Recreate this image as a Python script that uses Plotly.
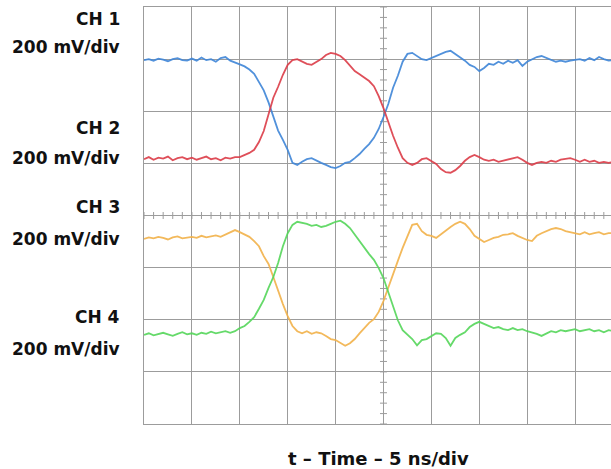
import numpy as np
import plotly.graph_objects as go

# Time base: 0.5 ns samples, 5 ns per division
time_ns = [i * 0.5 for i in range(99)]

# Channel traces in screen divisions (200 mV/div, each channel with its own offset)
ch1 = [2.98, 3.00, 2.97, 3.01, 2.99, 2.96, 3.00, 3.02, 2.98, 2.97,
       3.01, 2.97, 3.03, 2.98, 3.00, 2.95, 3.02, 3.04, 2.97, 2.94,
       2.90, 2.86, 2.80, 2.72, 2.57, 2.40, 2.17, 1.91, 1.63, 1.45,
       1.26, 1.01, 0.97, 1.03, 1.08, 1.10, 1.05, 1.01, 0.97, 0.93,
       0.91, 0.95, 1.01, 1.03, 1.10, 1.18, 1.28, 1.37, 1.49, 1.66,
       1.89, 2.14, 2.45, 2.68, 2.95, 3.10, 3.12, 3.06, 3.00, 2.98,
       3.02, 3.06, 3.10, 3.14, 3.16, 3.10, 3.04, 2.97, 2.89, 2.85,
       2.77, 2.83, 2.91, 2.89, 2.95, 2.91, 2.97, 2.93, 2.98, 2.87,
       2.95, 3.00, 3.04, 3.06, 3.02, 2.98, 2.95, 2.97, 2.95, 2.97,
       2.98, 3.00, 2.97, 3.02, 2.98, 3.04, 3.00, 2.97, 2.98]

ch2 = [1.08, 1.12, 1.07, 1.11, 1.09, 1.13, 1.06, 1.10, 1.12, 1.08,
       1.11, 1.07, 1.10, 1.13, 1.08, 1.10, 1.06, 1.11, 1.09, 1.12,
       1.12, 1.16, 1.20, 1.26, 1.41, 1.62, 1.93, 2.26, 2.47, 2.70,
       2.89, 2.98, 3.00, 2.95, 2.91, 2.89, 2.95, 3.00, 3.08, 3.12,
       3.10, 3.06, 2.98, 2.87, 2.77, 2.71, 2.64, 2.58, 2.48, 2.29,
       2.06, 1.78, 1.53, 1.30, 1.10, 1.01, 0.97, 1.01, 1.08, 1.10,
       1.05, 0.99, 0.89, 0.83, 0.82, 0.87, 0.95, 1.05, 1.12, 1.16,
       1.12, 1.07, 1.05, 1.07, 1.03, 1.05, 1.08, 1.10, 1.12, 1.07,
       1.01, 0.97, 1.01, 1.03, 1.01, 1.05, 1.03, 1.07, 1.08, 1.10,
       1.07, 1.03, 1.07, 1.03, 1.05, 1.01, 1.03, 1.01, 1.03]

ch3 = [-0.45, -0.42, -0.44, -0.41, -0.43, -0.46, -0.42, -0.40, -0.44, -0.42,
       -0.41, -0.43, -0.39, -0.42, -0.40, -0.38, -0.41, -0.37, -0.32, -0.28,
       -0.32, -0.36, -0.41, -0.49, -0.59, -0.78, -0.93, -1.18, -1.45, -1.70,
       -1.93, -2.12, -2.22, -2.26, -2.22, -2.27, -2.24, -2.26, -2.31, -2.37,
       -2.39, -2.45, -2.50, -2.45, -2.37, -2.26, -2.16, -2.06, -1.99, -1.85,
       -1.64, -1.37, -1.12, -0.87, -0.62, -0.39, -0.18, -0.16, -0.30, -0.37,
       -0.39, -0.43, -0.36, -0.28, -0.22, -0.16, -0.12, -0.16, -0.26, -0.39,
       -0.45, -0.51, -0.47, -0.43, -0.41, -0.37, -0.36, -0.34, -0.39, -0.43,
       -0.47, -0.49, -0.39, -0.34, -0.30, -0.26, -0.24, -0.26, -0.30, -0.32,
       -0.34, -0.36, -0.32, -0.36, -0.34, -0.32, -0.36, -0.34, -0.34]

ch4 = [-2.29, -2.26, -2.30, -2.27, -2.25, -2.28, -2.31, -2.27, -2.24, -2.28,
       -2.26, -2.29, -2.25, -2.27, -2.23, -2.26, -2.24, -2.22, -2.25, -2.22,
       -2.16, -2.12, -2.04, -1.95, -1.79, -1.62, -1.39, -1.18, -0.91, -0.59,
       -0.34, -0.18, -0.12, -0.14, -0.16, -0.20, -0.18, -0.22, -0.20, -0.16,
       -0.12, -0.10, -0.16, -0.24, -0.37, -0.49, -0.62, -0.74, -0.85, -1.01,
       -1.20, -1.47, -1.72, -2.01, -2.20, -2.29, -2.37, -2.49, -2.39, -2.37,
       -2.31, -2.26, -2.27, -2.35, -2.50, -2.35, -2.29, -2.24, -2.14, -2.08,
       -2.04, -2.08, -2.12, -2.16, -2.14, -2.18, -2.20, -2.16, -2.20, -2.18,
       -2.22, -2.24, -2.27, -2.31, -2.26, -2.22, -2.24, -2.20, -2.22, -2.20,
       -2.18, -2.22, -2.20, -2.18, -2.22, -2.20, -2.24, -2.20, -2.22]

channel_labels = ["CH 1", "CH 2", "CH 3", "CH 4"]
scale_label = "200 mV/div"
x_title = "t \u2013 Time \u2013 5 ns/div"

colors = ["#3f86d8", "#dc3c48", "#f2b24a", "#55d65a"]

W, H = 611, 469
L, T, B = 144, 7, 45
plot_h = H - T - B
plot_w = W - L

fig = go.Figure()

# Graticule minor ticks along the centre lines
grid_col = "#9c9c9c"
tx = np.arange(0, 49, 1.0)
fig.add_trace(go.Scatter(x=tx, y=np.zeros_like(tx), mode="markers",
                         marker=dict(symbol="line-ns", size=5,
                                     line=dict(color=grid_col, width=1)),
                         hoverinfo="skip", showlegend=False))
ty = np.arange(-4, 4.01, 0.2)
fig.add_trace(go.Scatter(x=np.full_like(ty, 25.0), y=ty, mode="markers",
                         marker=dict(symbol="line-ew", size=5,
                                     line=dict(color=grid_col, width=1)),
                         hoverinfo="skip", showlegend=False))

for trace, col in zip([ch1, ch2, ch3, ch4], colors):
    fig.add_trace(go.Scatter(x=time_ns, y=trace, mode="lines",
                             line=dict(color=col, width=1.8),
                             opacity=0.9,
                             hoverinfo="skip", showlegend=False))

font_lbl = dict(family="DejaVu Sans", size=17, color="#111111", weight="bold")


def py_to_paper(py):
    return (H - B - py) / plot_h


label_rows = [(channel_labels[0], 19), (scale_label, 47.5),
              (channel_labels[1], 128), (scale_label, 158),
              (channel_labels[2], 207), (scale_label, 239),
              (channel_labels[3], 317), (scale_label, 349)]
annotations = []
for text, py in label_rows:
    annotations.append(dict(text=text, xref="paper", yref="paper",
                            x=(122 - L) / plot_w, y=py_to_paper(py),
                            xanchor="right", yanchor="middle",
                            showarrow=False, font=font_lbl))
annotations.append(dict(text=x_title, xref="paper", yref="paper",
                        x=(378 - L) / plot_w, y=py_to_paper(458),
                        xanchor="center", yanchor="middle", showarrow=False,
                        font=dict(family="DejaVu Sans", size=18,
                                  color="#111111", weight="bold")))

fig.update_layout(
    width=W, height=H,
    margin=dict(l=L, r=0, t=T, b=B),
    paper_bgcolor="white", plot_bgcolor="white",
    annotations=annotations,
    xaxis=dict(range=[0, 48.75], dtick=5, tick0=0, showgrid=True,
               gridcolor=grid_col, gridwidth=1.2, zeroline=False,
               showticklabels=False, ticks="", showline=True,
               linecolor=grid_col, linewidth=1.2, mirror=True),
    yaxis=dict(range=[-4, 4], dtick=1, tick0=0, showgrid=True,
               gridcolor=grid_col, gridwidth=1.2, zeroline=False,
               showticklabels=False, ticks="", showline=True,
               linecolor=grid_col, linewidth=1.2, mirror=False),
)

fig.write_html("out.html")
